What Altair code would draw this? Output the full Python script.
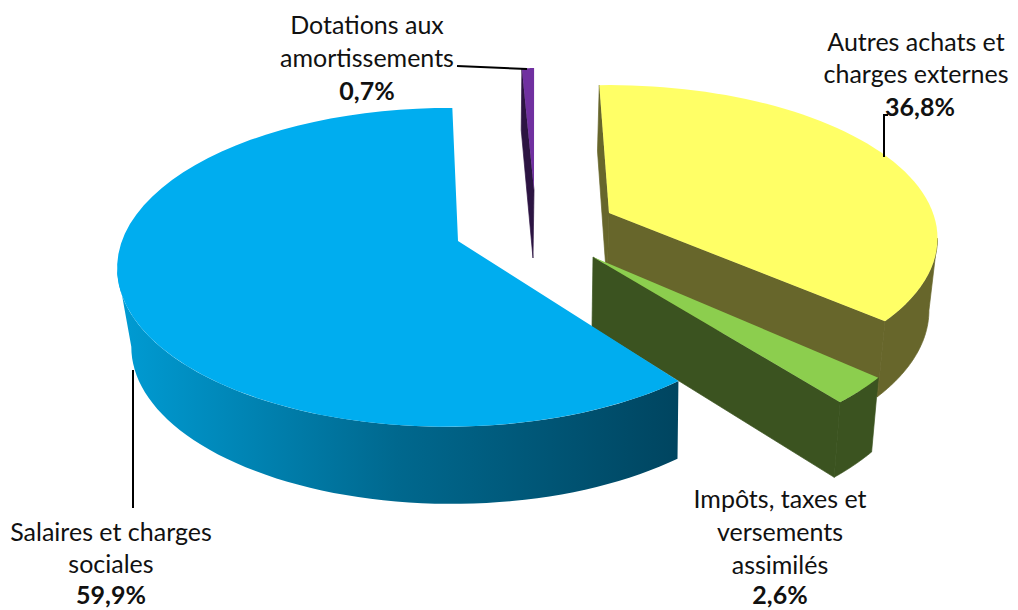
import math
import altair as alt
import pandas as pd

# ---- values
names = ["Autres achats et charges externes", "Impôts, taxes et versements assimilés",
         "Salaires et charges sociales", "Dotations aux amortissements"]
shares = [36.8, 2.6, 59.9, 0.7]

# ---- 3D view settings: per slice (exploded) top apex, bottom apex, radii, start angle
K = 0.165
SLICES = [
    dict(top=(609, 213), bot=(607, 284), a=324, b=149, m=0.0, start=-2.0, sx=0.98, sy=1.04),
    dict(top=(593, 257), bot=(592, 327), a=335, b=166, m=0.0, start=130.5, sx=0.98, sy=1.035),
    dict(top=(458, 241), bot=(463, 320), a=326, b=155, m=0.03, start=143.2, sx=0.973, sy=0.99),
    dict(top=(534, 190), bot=(533, 258), a=324, b=142, m=0.0, start=-2.5, sx=0.97, sy=1.05),
]


def pt(s, theta, level):
    t = math.radians(theta)
    w = 1 + K * math.cos(t) + s["m"] * math.sin(t)
    dx = s["a"] * math.sin(t) / w
    dy = -s["b"] * math.cos(t) / w
    if level == 0:
        return (s["top"][0] + dx, s["top"][1] + dy)
    return (s["bot"][0] + s["sx"] * dx, s["bot"][1] + s["sy"] * dy)


def arc(s, t0, t1, level, n=60):
    return [pt(s, t0 + (t1 - t0) * i / n, level) for i in range(n + 1)]


X = alt.X("x:Q", scale=alt.Scale(domain=[8, 1010], nice=False, zero=False), axis=None)
Y = alt.Y("y:Q", scale=alt.Scale(domain=[8, 608], reverse=True, nice=False, zero=False), axis=None)


def poly(points, fill, seam=True):
    points = list(points) + [points[0]]
    df = pd.DataFrame({"x": [p[0] for p in points], "y": [p[1] for p in points],
                       "i": list(range(len(points)))})
    if seam:
        mark = alt.Chart(df).mark_line(fill=fill, stroke=fill, strokeWidth=0.7)
    else:
        mark = alt.Chart(df).mark_line(fill=fill, stroke=None, strokeWidth=0)
    return mark.encode(x=X, y=Y, order="i:Q")


def top_face(s, t0, t1):
    return [s["top"]] + arc(s, t0, t1, 0)


def wall(s, t0, t1):
    return arc(s, t0, t1, 0) + arc(s, t1, t0, 1)


def cut(s, t):
    return [s["top"], pt(s, t, 0), pt(s, t, 1), s["bot"]]


spans = [v * 3.6 for v in shares]
yel, grn, blu, pur = SLICES
y0, y1 = yel["start"], yel["start"] + spans[0]
g0, g1 = grn["start"], grn["start"] + spans[1]
b0, b1 = blu["start"], blu["start"] + spans[2]
p0, p1 = pur["start"], pur["start"] + spans[3]

SIL_R = math.degrees(math.acos(-K))
SIL_L = 360 - SIL_R

blue_grad = alt.LinearGradient(
    gradient="linear", x1=0, x2=1, y1=0, y2=0,
    stops=[alt.GradientStop(color="#009CD4", offset=0),
           alt.GradientStop(color="#00688E", offset=0.5),
           alt.GradientStop(color="#004560", offset=1)])

layers = [
    # purple
    poly(cut(pur, p0), "#2C1442"),
    poly(top_face(pur, p0, p1), "#7030A0", seam=False),
    # yellow
    poly(cut(yel, y0), "#67662B"),
    poly(wall(yel, SIL_R, y1), "#67662B"),
    poly(cut(yel, y1), "#67662B"),
    poly(top_face(yel, y0, y1), "#FFFF66", seam=False),
    # green
    poly(wall(grn, g0, g1), "#3B5320"),
    poly(cut(grn, g1), "#3B5320"),
    poly(top_face(grn, g0, g1), "#8CCE4E", seam=False),
    # blue
    poly(wall(blu, b0, SIL_L), blue_grad, seam=False),
    poly(top_face(blu, b0, b1), "#00ADEF", seam=False),
]

# ---- leader lines
leaders = [
    ([457, 527], [66, 69]),
    ([884, 884, 888], [157, 115, 115]),
    ([133, 133], [370, 508]),
]
for lx, ly in leaders:
    df = pd.DataFrame({"x": lx, "y": ly, "i": range(len(lx))})
    layers.append(alt.Chart(df).mark_line(color="black", strokeWidth=2).encode(x=X, y=Y, order="i:Q"))

# ---- labels
label_text = ["Autres achats et", "charges externes", "36,8%",
              "Dotations aux", "amortissements", "0,7%",
              "Impôts, taxes et", "versements", "assimilés", "2,6%",
              "Salaires et charges", "sociales", "59,9%"]
label_x = [916, 916, 920, 367, 367, 367, 780, 780, 780, 780, 111, 111, 111]
label_y = [51, 83, 116, 34, 67, 100, 508, 541, 574, 604, 541, 573, 604]
label_bold = [0, 0, 1, 0, 0, 1, 0, 0, 0, 1, 0, 0, 1]
ldf = pd.DataFrame({"x": label_x, "y": label_y, "t": label_text, "b": label_bold})
for flag, weight in [(0, "normal"), (1, "bold")]:
    layers.append(alt.Chart(ldf[ldf.b == flag]).mark_text(
        font="Lato", fontSize=25, fontWeight=weight, color="#111111",
        align="center", baseline="alphabetic").encode(x=X, y=Y, text="t:N"))

chart = alt.layer(*layers).properties(
    width=1002, height=600, padding=0, background="white",
    autosize=alt.AutoSizeParams(type="none"),
).configure_view(stroke=None, strokeWidth=0)
chart.save("out.html", embed_options={"renderer": "svg", "actions": False})
